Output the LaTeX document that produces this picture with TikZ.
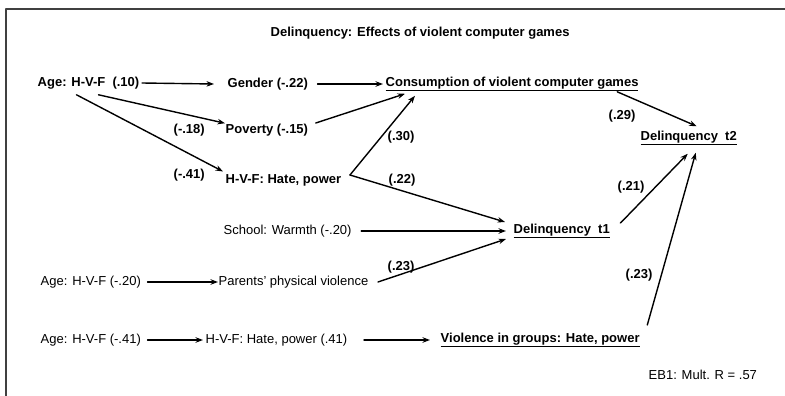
\documentclass[tikz,border=0pt]{standalone}
\usepackage{fontspec}
\usetikzlibrary{arrows.meta}
\setmainfont{Liberation Sans}
\begin{document}
\begin{tikzpicture}[x=1pt, y=-1pt, font=\fontsize{13}{15}\selectfont, line join=round, line cap=round, >={Stealth[length=7.5pt,width=5.5pt]},
	inner sep=0.5pt, anchor=west,
	bf/.style={font=\fontsize{13}{15}\selectfont\bfseries},
	arr/.style={->, line width=1.4pt}]
	\useasboundingbox (0,0) rectangle (785,396);
	\draw[line width=1.6pt, black!75] (6,396) -- (6,9) -- (785,9);
	\path
	(270,33) node[bf] (title) {Delinquency: Effects of violent computer games}
	(37,83) node[bf] (age1) {Age: H-V-F\ \ (.10)}
	(227,84) node[bf] (gender) {Gender (-.22)}
	(385,84) node[bf] (consum) {\underline{Consumption of violent computer games}}
	(225,130) node[bf] (poverty) {Poverty (-.15)}
	(225,180) node[bf] (hate1) {H-V-F: Hate, power}
	(640,138) node[bf] (delq2) {\underline{Delinquency\ \ t2}}
	(223,231) node (school) {School: Warmth (-.20)}
	(513,231) node[bf] (delq1) {\underline{Delinquency\ \ t1}}
	(40,282) node (age2) {Age: H-V-F (-.20)}
	(218,282) node (parents) {Parents' physical violence}
	(40,340) node (age3) {Age: H-V-F (-.41)}
	(205,340) node (hate2) {H-V-F: Hate, power (.41)}
	(440,340) node[bf] (violence) {\underline{Violence in groups: Hate, power}}
	(648,375) node (eb) {EB1: Mult. R = .57};
	% path coefficients
	\foreach \x/\y/\t/\n in {173/130/-.18/cA, 173/175/-.41/cB, 387/137/.30/cC, 388/180/.22/cD,
		608/116/.29/cE, 617/187/.21/cF, 387/267/.23/cG, 625/275/.23/cH}
		\path (\x,\y) node[bf] (\n) {(\t)};
	\draw[arr] ([shift={(2,0)}]age1.east) -- ([shift={(-13,0)}]gender.west);
	\draw[arr] ([shift={(9,0)}]gender.east) -- ([shift={(-2,0)}]consum.west);
	\draw[arr] ([shift={(10,5)}]age1.south) -- (poverty.north west);
	\draw[arr] ([shift={(-12,5)}]age1.south) -- ([shift={(-2,-2)}]hate1.north west);
	\draw[arr] ([shift={(7,-7)}]poverty.east) -- ([shift={(20,2)}]consum.south west);
	\draw[arr] ([shift={(8,-5)}]hate1.east) -- ([shift={(30,4)}]consum.south west);
	\draw[arr] ([shift={(8,-5)}]hate1.east) -- ([shift={(-8,-9)}]delq1.west);
	\draw[arr] ([shift={(9,0)}]school.east) -- ([shift={(-7,0)}]delq1.west);
	\draw[arr] ([shift={(9,0)}]parents.east) -- ([shift={(-7,8)}]delq1.west);
	\draw[arr] ([shift={(-22,0)}]consum.south east) -- ([shift={(8,-4)}]delq2.north);
	\draw[arr] ([shift={(10,-8)}]delq1.east) -- ([shift={(-1,8)}]delq2.south);
	\draw[arr] ([shift={(7,-15)}]violence.east) -- ([shift={(7,7)}]delq2.south);
	\draw[arr] ([shift={(6,0)}]age2.east) -- (parents.west);
	\draw[arr] ([shift={(6,0)}]age3.east) -- ([shift={(-2,0)}]hate2.west);
	\draw[arr] ([shift={(16,0)}]hate2.east) -- ([shift={(-10,0)}]violence.west);
\end{tikzpicture}
\end{document}
